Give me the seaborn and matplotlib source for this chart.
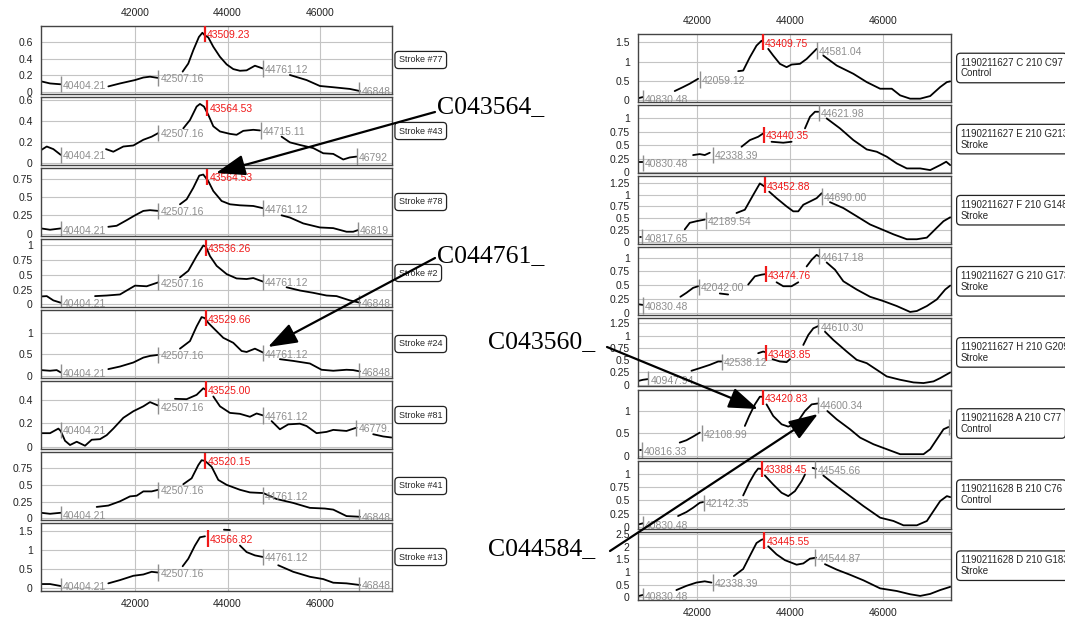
import numpy as np
import pandas as pd
import matplotlib
matplotlib.use('Agg')
import matplotlib.pyplot as plt
from matplotlib.patches import FancyArrowPatch
import seaborn as sns

nan = np.nan

# ===============================
# Data: left column (Stroke series)
# ===============================
left_names = ['Stroke #77', 'Stroke #43', 'Stroke #78', 'Stroke #2',
              'Stroke #24', 'Stroke #81', 'Stroke #41', 'Stroke #13']

L1_x = [39970, 40165, 40395, nan, 41425, 41676, 42000, 42180, 42324, 42504, nan,
        43029, 43150, 43260, 43380, 43455, 43505, 43583, 43690, 43835, 43980, 44122, 44266, 44410, 44590, 44770, nan,
        45345, 45705, 45993, 46281, 46640, 46856]
L1_y = [0.13, 0.105, 0.095, nan, 0.07, 0.105, 0.145, 0.175, 0.185, 0.17, nan,
        0.245, 0.34, 0.5, 0.655, 0.705, 0.675, 0.65, 0.54, 0.42, 0.33, 0.275, 0.255, 0.26, 0.315, 0.28, nan,
        0.205, 0.145, 0.075, 0.06, 0.04, 0.015]

L2_x = [39970, 40094, 40237, 40395, nan, 41374, 41532, 41748, 41964, 42180, 42360, 42504, nan,
        43043, 43187, 43331, 43403, 43489, 43583, 43691, 43835, 44050, 44194, 44338, 44554, 44698, nan,
        45165, 45345, 45561, 45849, 46065, 46281, 46497, 46640, 46784]
L2_y = [0.12, 0.155, 0.13, 0.075, nan, 0.13, 0.105, 0.155, 0.165, 0.22, 0.25, 0.285, nan,
        0.33, 0.41, 0.54, 0.565, 0.54, 0.46, 0.35, 0.30, 0.277, 0.268, 0.306, 0.316, 0.31, nan,
        0.25, 0.195, 0.17, 0.14, 0.09, 0.084, 0.03, 0.05, 0.058]

L3_x = [39970, 40165, 40395, nan, 41424, 41604, 41820, 42000, 42180, 42324, 42504, nan,
        42971, 43115, 43259, 43388, 43475, 43583, 43691, 43870, 44050, 44266, 44554, 44770, nan,
        45165, 45345, 45633, 45993, 46281, 46568, 46712, 46820]
L3_y = [0.072, 0.054, 0.072, nan, 0.094, 0.108, 0.184, 0.25, 0.31, 0.32, 0.31, nan,
        0.40, 0.467, 0.624, 0.79, 0.804, 0.714, 0.58, 0.445, 0.40, 0.386, 0.377, 0.346, nan,
        0.25, 0.22, 0.14, 0.085, 0.076, 0.027, 0.027, 0.05]

L4_x = [39970, 40094, 40237, 40395, nan, 41137, 41388, 41676, 41820, 42000, 42252, 42504, nan,
        42971, 43151, 43331, 43475, 43532, 43619, 43763, 43979, 44194, 44410, 44554, 44770, nan,
        45273, 45561, 45849, 46137, 46353, 46640, 46856]
L4_y = [0.134, 0.14, 0.067, 0.028, nan, 0.14, 0.15, 0.168, 0.235, 0.318, 0.307, 0.374, nan,
        0.458, 0.57, 0.82, 1.0, 0.978, 0.82, 0.654, 0.514, 0.44, 0.43, 0.447, 0.385, nan,
        0.29, 0.235, 0.196, 0.15, 0.14, 0.067, 0.028]

L5_x = [39970, 40165, 40309, 40395, nan, 41424, 41676, 41964, 42180, 42324, 42504, nan,
        42971, 43187, 43331, 43439, 43511, 43583, 43727, 43907, 44122, 44302, 44410, 44590, 44770, nan,
        45129, 45417, 45777, 46029, 46281, 46568, 46712, 46856]
L5_y = [0.137, 0.122, 0.137, 0.084, nan, 0.16, 0.22, 0.313, 0.427, 0.466, 0.49, nan,
        0.634, 0.81, 1.15, 1.366, 1.34, 1.23, 1.076, 0.885, 0.77, 0.58, 0.557, 0.634, 0.542, nan,
        0.39, 0.35, 0.29, 0.145, 0.122, 0.145, 0.137, 0.107]

L6_x = [39970, 40165, 40345, 40395, 40489, 40597, 40741, 40921, 41065, 41245, 41388, 41532, 41748, 41964,
        42180, 42324, 42504, nan, 42863, 43115, 43331, 43475, 43532, nan,
        43691, 43835, 44050, 44266, 44482, 44626, 44770, nan,
        44950, 45129, 45309, 45561, 45705, 45921, 46137, 46281, 46568, 46784, nan, 47144, 47360, 47539]
L6_y = [0.115, 0.115, 0.154, 0.134, 0.05, 0.014, 0.042, 0.008, 0.059, 0.064, 0.098, 0.154, 0.246, 0.302,
        0.344, 0.38, 0.35, nan, 0.408, 0.405, 0.442, 0.498, 0.484, nan,
        0.428, 0.344, 0.288, 0.28, 0.255, 0.283, 0.266, nan,
        0.218, 0.148, 0.19, 0.196, 0.176, 0.115, 0.126, 0.143, 0.134, 0.162, nan, 0.106, 0.087, 0.078]

L7_x = [39970, 40165, 40395, nan, 41173, 41424, 41676, 41892, 42036, 42180, 42360, 42504, nan,
        43043, 43223, 43367, 43439, 43511, 43655, 43799, 43979, 44266, 44482, 44770, 45057, 45417, 45777,
        46101, 46281, 46568, 46856]
L7_y = [0.083, 0.068, 0.083, nan, 0.17, 0.19, 0.253, 0.326, 0.336, 0.40, 0.40, 0.424, nan,
        0.507, 0.594, 0.79, 0.862, 0.852, 0.765, 0.57, 0.497, 0.424, 0.385, 0.375, 0.287, 0.229, 0.156,
        0.146, 0.13, 0.034, 0.024]

L8_x = [39970, 40165, 40395, nan, 41424, 41676, 41964, 42180, 42360, 42504, nan,
        43029, 43151, 43295, 43403, 43511, nan, 43921, 44050, nan, 44266, 44410, 44590, 44770, nan,
        45093, 45417, 45777, 46065, 46281, 46568, 46856]
L8_y = [0.111, 0.111, 0.06, nan, 0.129, 0.214, 0.326, 0.36, 0.43, 0.41, nan,
        0.574, 0.77, 1.114, 1.328, 1.354, nan, 1.525, 1.517, nan, 1.114, 0.943, 0.857, 0.814, nan,
        0.6, 0.43, 0.3, 0.24, 0.146, 0.129, 0.086]

left_ylims = [(-0.02, 0.785), (-0.023, 0.632), (-0.031, 0.893), (-0.045, 1.11),
              (-0.046, 1.53), (-0.02, 0.56), (-0.024, 0.984), (-0.07, 1.70)]
left_yticks = [[0, 0.2, 0.4, 0.6], [0, 0.2, 0.4, 0.6], [0, 0.25, 0.5, 0.75], [0, 0.25, 0.5, 0.75, 1],
               [0, 0.5, 1], [0, 0.2, 0.4], [0, 0.25, 0.5, 0.75], [0, 0.5, 1, 1.5]]

left_mark_x = [[40404.21, 42507.16, 43509.23, 44761.12, 46848],
               [40404.21, 42507.16, 43564.53, 44715.11, 46792],
               [40404.21, 42507.16, 43564.53, 44761.12, 46819],
               [40404.21, 42507.16, 43536.26, 44761.12, 46848],
               [40404.21, 42507.16, 43529.66, 44761.12, 46848],
               [40404.21, 42507.16, 43525.00, 44761.12, 46779],
               [40404.21, 42507.16, 43520.15, 44761.12, 46848],
               [40404.21, 42507.16, 43566.82, 44761.12, 46848]]
left_mark_y = [[0.095, 0.17, 0.69, 0.28, 0.02],
               [0.075, 0.285, 0.525, 0.31, 0.058],
               [0.06, 0.31, 0.77, 0.346, 0.05],
               [0.028, 0.374, 0.96, 0.385, 0.028],
               [0.084, 0.49, 1.34, 0.53, 0.107],
               [0.143, 0.344, 0.49, 0.266, 0.162],
               [0.058, 0.424, 0.85, 0.34, 0.024],
               [0.06, 0.41, 1.30, 0.814, 0.086]]
left_mark_lab = [['40404.21', '42507.16', '43509.23', '44761.12', '46848'],
                 ['40404.21', '42507.16', '43564.53', '44715.11', '46792'],
                 ['40404.21', '42507.16', '43564.53', '44761.12', '46819'],
                 ['40404.21', '42507.16', '43536.26', '44761.12', '46848'],
                 ['40404.21', '42507.16', '43529.66', '44761.12', '46848'],
                 ['40404.21', '42507.16', '43525.00', '44761.12', '46779.'],
                 ['40404.21', '42507.16', '43520.15', '44761.12', '46848'],
                 ['40404.21', '42507.16', '43566.82', '44761.12', '46848']]

# ===============================
# Data: right column (patients)
# ===============================
right_names = ['1190211627 C 210 C97\nControl', '1190211627 E 210 G213\nStroke',
               '1190211627 F 210 G148\nStroke', '1190211627 G 210 G173\nStroke',
               '1190211627 H 210 G209\nStroke', '1190211628 A 210 C77\nControl',
               '1190211628 B 210 C76\nControl', '1190211628 D 210 G183\nStroke']

R1_x = [40749, 40835, nan, 41518, 41698, 41842, 42022, nan, 42885, 42993, 43137, 43280, 43388, 43424, nan,
        43532, 43640, 43784, 43928, 44036, 44216, 44360, 44504, 44575, nan,
        44719, 45007, 45367, 45655, 45943, 46194, 46374, 46590, 46806, 47022, 47237, 47381, 47453]
R1_y = [0.06, 0.086, nan, 0.24, 0.343, 0.43, 0.557, nan, 0.754, 0.77, 1.114, 1.414, 1.54, 1.5, nan,
        1.33, 1.157, 0.943, 0.857, 0.925, 0.943, 1.07, 1.243, 1.33, nan,
        1.157, 0.9, 0.686, 0.471, 0.3, 0.3, 0.129, 0.043, 0.043, 0.111, 0.343, 0.471, 0.49]

R2_x = [40749, 40835, nan, 41914, 42058, 42165, 42273, nan, 42957, 43137, 43316, 43424, nan,
        43604, 43856, 44036, nan, 44324, 44432, 44540, 44612, nan,
        44791, 45079, 45367, 45655, 45871, 46087, 46302, 46518, 46806, 47022, 47237, 47367, 47453]
R2_y = [0.18, 0.18, nan, 0.317, 0.335, 0.317, 0.36, nan, 0.472, 0.596, 0.658, 0.72, nan,
        0.565, 0.547, 0.565, nan, 0.814, 1.03, 1.124, 1.124, nan,
        1.0, 0.814, 0.596, 0.422, 0.379, 0.286, 0.161, 0.068, 0.068, 0.037, 0.13, 0.193, 0.13]

R3_x = [40763, 40799, nan, 41734, 41842, 41986, 42165, nan, 42849, 43029, 43209, 43352, 43460, nan,
        43554, 43712, 43928, 44072, 44180, 44288, 44432, 44575, 44683, nan,
        44863, 45151, 45439, 45727, 46014, 46230, 46518, 46734, 46950, 47165, 47309, 47453]
R3_y = [0.111, 0.111, nan, 0.264, 0.403, 0.4375, 0.472, nan, 0.611, 0.68, 0.993, 1.236, 1.167, nan,
        1.062, 0.924, 0.75, 0.646, 0.646, 0.785, 0.854, 0.924, 1.028, nan,
        0.84, 0.715, 0.542, 0.368, 0.25, 0.16, 0.056, 0.056, 0.09, 0.3, 0.4375, 0.52]

R4_x = [40749, 40835, nan, 41640, 41770, 41914, 42022, nan, 42489, 42669, nan, 43101, 43245, 43388, 43482, nan,
        43712, 43856, 44036, 44180, nan, 44360, 44468, 44575, 44633, nan,
        44791, 44971, 45151, 45439, 45727, 46014, 46302, 46590, 46734, 46950, 47165, 47345, 47453]
R4_y = [0.16, 0.15, nan, 0.296, 0.367, 0.456, 0.485, nan, 0.355, 0.337, nan, 0.515, 0.663, 0.692, 0.704, nan,
        0.556, 0.485, 0.485, 0.556, nan, 0.84, 0.959, 1.047, 1.018, nan,
        0.911, 0.781, 0.574, 0.426, 0.296, 0.219, 0.13, 0.024, 0.041, 0.13, 0.249, 0.426, 0.497]

R5_x = [40749, 40835, 40943, nan, 41878, 42058, 42273, 42453, 42525, nan, 43316, 43424, 43482, nan,
        43626, 43784, 43928, 44000, nan, 44288, 44396, 44504, 44612, nan,
        44755, 44935, 45223, 45439, 45655, 45871, 46086, 46374, 46662, 46878, 47093, 47237, 47453]
R5_y = [0.081, 0.101, 0.115, nan, 0.284, 0.338, 0.405, 0.473, 0.473, nan, 0.642, 0.676, 0.66, nan,
        0.52, 0.473, 0.46, 0.52, nan, 0.81, 1.014, 1.149, 1.196, nan,
        1.08, 0.912, 0.676, 0.507, 0.439, 0.304, 0.169, 0.101, 0.047, 0.034, 0.068, 0.135, 0.25]

R6_x = [40763, 40799, nan, 41626, 41770, 41914, 42058, nan, 43029, 43122, 43245, 43352, 43424, nan,
        43496, 43640, 43820, 43964, 44144, 44324, 44468, 44612, nan,
        44806, 45007, 45295, 45511, 45799, 46086, 46374, 46662, 46878, 47022, 47165, 47309, 47417]
R6_y = [0.133, 0.133, nan, 0.296, 0.348, 0.43, 0.519, nan, 0.667, 0.889, 1.148, 1.319, 1.319, nan,
        1.148, 0.889, 0.704, 0.652, 0.726, 1.0, 1.148, 1.17, nan,
        1.0, 0.815, 0.593, 0.407, 0.259, 0.148, 0.037, 0.037, 0.037, 0.148, 0.37, 0.593, 0.644]

R7_x = [40749, 40835, nan, 41590, 41770, 41914, 42058, 42129, nan, 42993, 43122, 43245, 43316, 43388, nan,
        43460, 43640, 43820, 43964, 44108, 44252, 44324, nan, 44489, 44561, nan,
        44719, 45007, 45295, 45583, 45943, 46230, 46446, 46734, 46950, 47093, 47237, 47381, 47453]
R7_y = [0.05, 0.069, nan, 0.206, 0.281, 0.3625, 0.456, 0.469, nan, 0.594, 0.831, 1.019, 1.1, 1.094, nan,
        0.969, 0.8, 0.644, 0.581, 0.675, 0.8625, 0.9875, nan, 1.1125, 1.094, nan,
        0.969, 0.769, 0.581, 0.394, 0.175, 0.1125, 0.031, 0.031, 0.1125, 0.3, 0.4875, 0.581, 0.5625]

R8_x = [40749, 40835, nan, 41554, 41770, 41986, 42165, 42309, nan, 42791, 42993, 43137, 43280, 43388, 43424, nan,
        43532, 43712, 43892, 44144, 44288, 44432, 44561, nan,
        44755, 45007, 45295, 45583, 45943, 46302, 46590, 46806, 47022, 47237, 47453]
R8_y = [0.05, 0.09, nan, 0.283, 0.45, 0.58, 0.63, 0.58, nan, 0.84, 1.12, 1.64, 2.15, 2.28, 2.3, nan,
        2.02, 1.7, 1.47, 1.29, 1.34, 1.53, 1.57, nan,
        1.31, 1.095, 0.89, 0.67, 0.35, 0.245, 0.116, 0.05, 0.13, 0.283, 0.41]

right_ylims = [(-0.043, 1.714), (-0.019, 1.248), (-0.049, 1.389), (-0.036, 1.183),
               (-0.034, 1.351), (-0.037, 1.48), (-0.031, 1.25), (-0.1, 2.6)]
right_yticks = [[0, 0.5, 1, 1.5], [0, 0.25, 0.5, 0.75, 1], [0, 0.25, 0.5, 0.75, 1, 1.25],
                [0, 0.25, 0.5, 0.75, 1], [0, 0.25, 0.5, 0.75, 1, 1.25], [0, 0.5, 1],
                [0, 0.25, 0.5, 0.75, 1], [0, 0.5, 1, 1.5, 2, 2.5]]

right_mark_x = [[40830.48, 42059.12, 43409.75, 44581.04],
                [40830.48, 42338.39, 43440.35, 44621.98],
                [40817.65, 42189.54, 43452.88, 44690.00],
                [40830.48, 42042.00, 43474.76, 44617.18],
                [40947.94, 42538.12, 43483.85, 44610.30],
                [40816.33, 42108.99, 43420.83, 44600.34, 47417],
                [40830.48, 42142.35, 43388.45, 44545.66],
                [40830.48, 42338.39, 43445.55, 44544.87]]
right_mark_y = [[0.05, 0.54, 1.5, 1.29],
                [0.17, 0.32, 0.69, 1.1],
                [0.1, 0.45, 1.2, 0.96],
                [0.14, 0.473, 0.70, 1.024],
                [0.11, 0.465, 0.64, 1.19],
                [0.12, 0.504, 1.31, 1.14, 0.644],
                [0.05, 0.456, 1.1, 1.08],
                [0.05, 0.58, 2.25, 1.57]]
right_mark_lab = [['40830.48', '42059.12', '43409.75', '44581.04'],
                  ['40830.48', '42338.39', '43440.35', '44621.98'],
                  ['40817.65', '42189.54', '43452.88', '44690.00'],
                  ['40830.48', '42042.00', '43474.76', '44617.18'],
                  ['40947.94', '42538.12', '43483.85', '44610.30'],
                  ['40816.33', '42108.99', '43420.83', '44600.34', ''],
                  ['40830.48', '42142.35', '43388.45', '44545.66'],
                  ['40830.48', '42338.39', '43445.55', '44544.87']]

# callouts
callout_text = ['C043564_', 'C044761_', 'C043560_', 'C044584_']

left_curves = [(L1_x, L1_y), (L2_x, L2_y), (L3_x, L3_y), (L4_x, L4_y),
               (L5_x, L5_y), (L6_x, L6_y), (L7_x, L7_y), (L8_x, L8_y)]
right_curves = [(R1_x, R1_y), (R2_x, R2_y), (R3_x, R3_y), (R4_x, R4_y),
                (R5_x, R5_y), (R6_x, R6_y), (R7_x, R7_y), (R8_x, R8_y)]

# ===============================
# Style
# ===============================
sns.set_style('white')
plt.rcParams['font.family'] = ['Liberation Sans', 'DejaVu Sans']

W, H = 1065, 623
fig = plt.figure(figsize=(W / 100, H / 100), dpi=100)

GRAY = '#8e8e8e'
RED = '#f01818'


def fx(px):
    return px / W


def fy(py):
    return 1 - py / H


def draw_panel(ax, xs, ys, ylim, yticks, mx, my, mlab, xlim, first, last):
    df = pd.DataFrame({'x': xs, 'y': ys})
    df['seg'] = df['x'].isna().cumsum()
    df = df.dropna()
    sns.lineplot(data=df, x='x', y='y', units='seg', estimator=None,
                 color='black', lw=1.3, ax=ax, legend=False)
    ax.set_xlim(*xlim)
    ax.set_ylim(*ylim)
    ax.set_xlabel('')
    ax.set_ylabel('')
    ax.set_xticks([42000, 44000, 46000])
    ax.set_yticks(yticks)
    ax.set_yticklabels(['{:g}'.format(t) for t in yticks])
    ax.grid(True, color='#c4c4c4', lw=0.8)
    ax.tick_params(axis='both', length=0, labelsize=7.5, pad=6, colors='#222222')
    ax.tick_params(axis='x', labeltop=first, labelbottom=last, pad=6)
    for sp in ax.spines.values():
        sp.set_color('#444444')
        sp.set_linewidth(1.0)
    half = 0.12 * (ylim[1] - ylim[0])
    for i, (x, y, lab) in enumerate(zip(mx, my, mlab)):
        red = (i == 2)
        col = RED if red else GRAY
        ax.vlines(x, y - half, y + half, color=col, lw=1.6 if red else 1.0, zorder=4)
        t = ax.annotate(lab, xy=(x, y), xytext=(1.5, -1), textcoords='offset points',
                        va='center', ha='left', fontsize=7.5, color=col, zorder=5)
        t.set_clip_box(ax.bbox)
        t.set_clip_on(True)


# ===============================
# Left column
# ===============================
for i in range(8):
    top = 26 + i * 71.0
    ax = fig.add_axes([fx(41), fy(top + 68), fx(392) - fx(41), 68 / H])
    xs, ys = left_curves[i]
    draw_panel(ax, xs, ys, left_ylims[i], left_yticks[i], left_mark_x[i], left_mark_y[i],
               left_mark_lab[i], (39970, 47550), i == 0, i == 7)
    fig.text(fx(399), fy(top + 34), left_names[i], fontsize=6.5, va='center', ha='left',
             bbox=dict(boxstyle='round,pad=0.45,rounding_size=0.4', fc='white', ec='#222222', lw=0.9))

# ===============================
# Right column
# ===============================
for i in range(8):
    top = 34 + i * 71.1
    ax = fig.add_axes([fx(638), fy(top + 68), fx(951) - fx(638), 68 / H])
    xs, ys = right_curves[i]
    draw_panel(ax, xs, ys, right_ylims[i], right_yticks[i], right_mark_x[i], right_mark_y[i],
               right_mark_lab[i], (40727, 47470), i == 0, i == 7)
    fig.text(fx(961), fy(top + 34), right_names[i], fontsize=7, va='center', ha='left',
             linespacing=1.1,
             bbox=dict(boxstyle='round,pad=0.45,rounding_size=0.4', fc='white', ec='#222222', lw=0.9))

# ===============================
# Callouts and arrows
# ===============================
callout_pos = [(437, 113), (437, 262), (488, 348), (488, 555)]
for txt, (px, py) in zip(callout_text, callout_pos):
    fig.text(fx(px), fy(py), txt, fontsize=18.5, family=['Liberation Serif', 'DejaVu Serif'],
             va='baseline', ha='left', color='black')

arrows = [((435, 112), (216, 173)), ((435, 258), (268, 347)),
          ((607, 347), (758, 409)), ((610, 551), (818, 414))]
for (x0, y0), (x1, y1) in arrows:
    arr = FancyArrowPatch((fx(x0), fy(y0)), (fx(x1), fy(y1)), transform=fig.transFigure,
                          arrowstyle='-|>,head_length=0.9,head_width=0.32', mutation_scale=20,
                          color='black', lw=1.6, shrinkA=0, shrinkB=0, zorder=10)
    fig.add_artist(arr)

fig.savefig('out.png', dpi=100)
